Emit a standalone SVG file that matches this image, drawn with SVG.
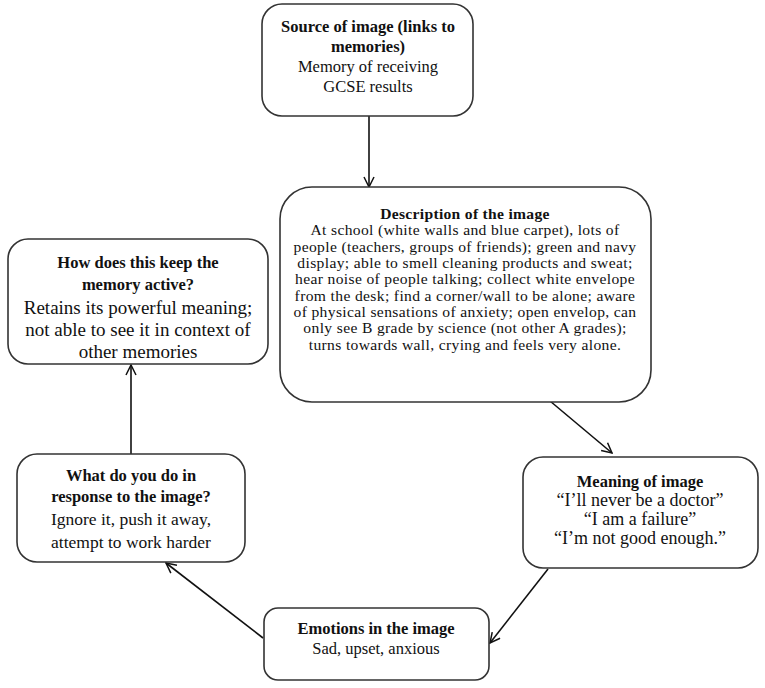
<svg xmlns="http://www.w3.org/2000/svg" width="765" height="688" viewBox="0 0 765 688">
<style>
.box{fill:#fff;stroke:#333;stroke-width:1.6}
.t{font-family:"Liberation Serif","Times New Roman",serif;font-size:16.5px;fill:#111;text-anchor:middle}
.b{font-weight:bold;font-size:16.5px}
.d{font-size:15.6px;letter-spacing:0.35px}
.db{font-size:15.6px;letter-spacing:0.3px}
.r19{font-size:19px}
.r175{font-size:17.5px}
.r18{font-size:18px}
.c{fill:none;stroke:#111;stroke-width:1.6}
</style>
<defs>
<marker id="ah" viewBox="0 0 12 12" refX="11" refY="6" markerWidth="12" markerHeight="12" markerUnits="userSpaceOnUse" orient="auto">
<path d="M1,1 L11,6 L1,11" fill="none" stroke="#111" stroke-width="1.5"/>
</marker>
</defs>
<rect width="765" height="688" fill="#fff"/>
<g id="connectors">
<line class="c" x1="369" y1="116" x2="369" y2="187" marker-end="url(#ah)"/>
<line class="c" x1="550" y1="401" x2="612" y2="453" marker-end="url(#ah)"/>
<line class="c" x1="548" y1="569" x2="490" y2="643" marker-end="url(#ah)"/>
<line class="c" x1="263" y1="638" x2="166" y2="563" marker-end="url(#ah)"/>
<line class="c" x1="131" y1="454" x2="131" y2="365" marker-end="url(#ah)"/>
</g>
<g id="source">
<rect class="box" x="262" y="4" width="211" height="112" rx="20"/>
<text class="t b" x="368" y="32">Source of image (links to</text>
<text class="t b" x="368" y="52">memories)</text>
<text class="t" x="368" y="72">Memory of receiving</text>
<text class="t" x="368" y="92">GCSE results</text>
</g>
<g id="description">
<rect class="box" x="280" y="187" width="371" height="215" rx="32"/>
<text class="t b db" x="465" y="219">Description of the image</text>
<text class="t d" x="465" y="235">At school (white walls and blue carpet), lots of</text>
<text class="t d" x="465" y="252">people (teachers, groups of friends); green and navy</text>
<text class="t d" x="465" y="268">display; able to smell cleaning products and sweat;</text>
<text class="t d" x="465" y="284">hear noise of people talking; collect white envelope</text>
<text class="t d" x="465" y="301">from the desk; find a corner/wall to be alone; aware</text>
<text class="t d" x="465" y="317">of physical sensations of anxiety; open envelop, can</text>
<text class="t d" x="465" y="333">only see B grade by science (not other A grades);</text>
<text class="t d" x="465" y="350">turns towards wall, crying and feels very alone.</text>
</g>
<g id="active">
<rect class="box" x="8" y="239" width="260" height="125" rx="20"/>
<text class="t b" x="138" y="268">How does this keep the</text>
<text class="t b" x="138" y="290">memory active?</text>
<text class="t r19" x="138" y="314">Retains its powerful meaning;</text>
<text class="t r19" x="138" y="336">not able to see it in context of</text>
<text class="t r19" x="138" y="358">other memories</text>
</g>
<g id="response">
<rect class="box" x="17" y="454" width="228" height="108" rx="20"/>
<text class="t b" x="131" y="481">What do you do in</text>
<text class="t b" x="131" y="502">response to the image?</text>
<text class="t r175" x="131" y="525">Ignore it, push it away,</text>
<text class="t r175" x="131" y="548">attempt to work harder</text>
</g>
<g id="meaning">
<rect class="box" x="523" y="457" width="235" height="111" rx="20"/>
<text class="t b" x="640" y="487">Meaning of image</text>
<text class="t r18" x="640" y="506">“I’ll never be a doctor”</text>
<text class="t r18" x="640" y="525">“I am a failure”</text>
<text class="t r18" x="640" y="544">“I’m not good enough.”</text>
</g>
<g id="emotions">
<rect class="box" x="264" y="608" width="225" height="72" rx="14"/>
<text class="t b" x="376" y="634">Emotions in the image</text>
<text class="t" x="376" y="654">Sad, upset, anxious</text>
</g>
</svg>
